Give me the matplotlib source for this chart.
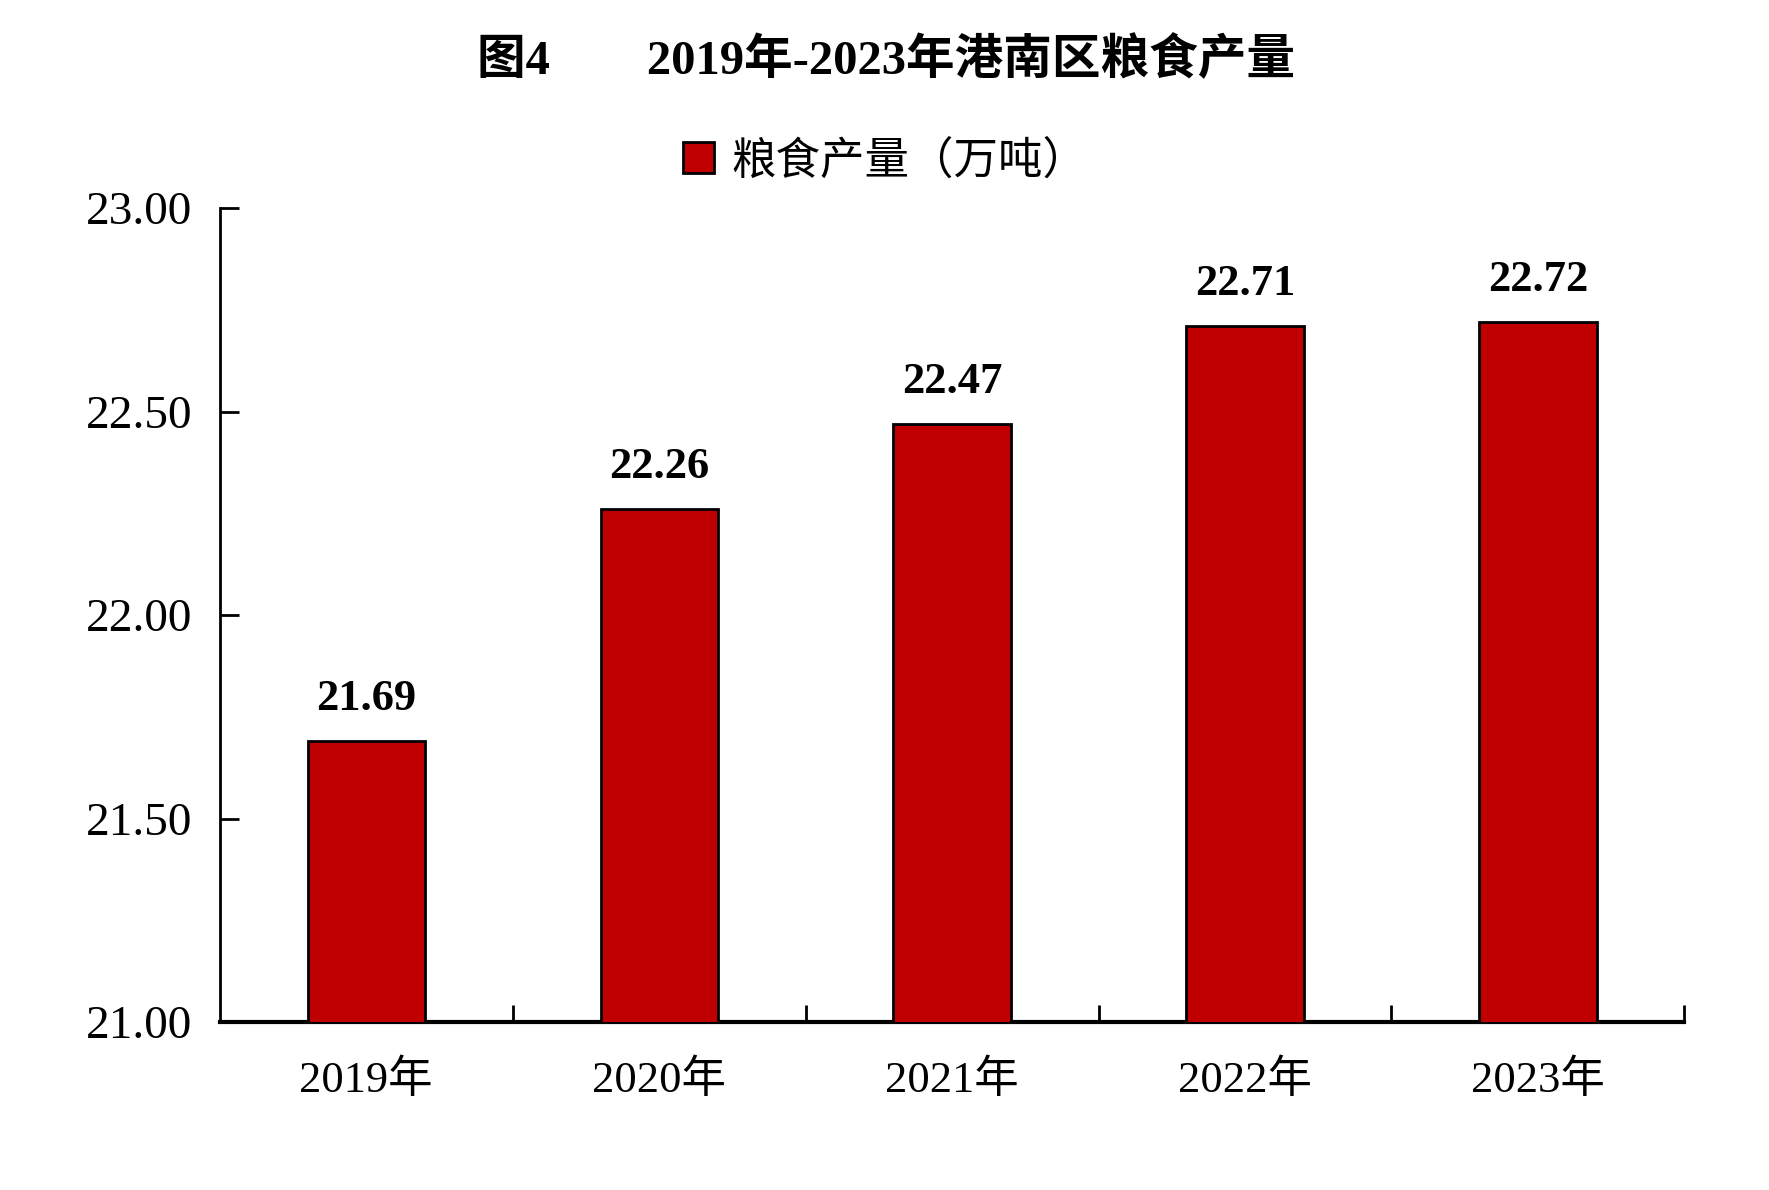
import matplotlib
matplotlib.use("Agg")
import matplotlib.pyplot as plt
from matplotlib.ticker import FixedLocator

plt.rcParams['font.family'] = ['Liberation Serif', 'Noto Sans CJK SC', 'DejaVu Sans']

# data
years = ["2019年", "2020年", "2021年", "2022年", "2023年"]
output = [21.69, 22.26, 22.47, 22.71, 22.72]
series_name = "粮食产量（万吨）"
title = "图4        2019年-2023年港南区粮食产量"
y_ticks = [21.0, 21.5, 22.0, 22.5, 23.0]

bar_color = "#C00000"

fig = plt.figure(figsize=(17.69, 11.9), dpi=100)
ax = fig.add_axes([0.1242, 0.141, 0.828, 0.684])

x = list(range(len(years)))
bars = ax.bar(x, output, width=0.4, color=bar_color, edgecolor="black",
              linewidth=2, label=series_name, zorder=3)

for xi, v in zip(x, output):
    ax.annotate(f"{v:.2f}", (xi, v), xytext=(0, 16), textcoords="offset points",
                ha="center", va="bottom", fontsize=32, fontweight="bold")

ax.set_xlim(-0.5, len(years) - 0.5)
ax.set_ylim(y_ticks[0], y_ticks[-1])
ax.set_yticks(y_ticks)
ax.set_yticklabels([f"{t:.2f}" for t in y_ticks])
ax.set_xticks(x)
ax.set_xticklabels(years)
ax.xaxis.set_minor_locator(FixedLocator([i + 0.5 for i in x]))

ax.tick_params(axis="y", direction="in", length=14, width=2, pad=20,
               labelsize=34)
ax.tick_params(axis="x", which="major", length=0, pad=27, labelsize=32)
ax.tick_params(axis="x", which="minor", direction="in", length=12, width=2)

for side in ("top", "right"):
    ax.spines[side].set_visible(False)
ax.spines["left"].set_linewidth(2)
ax.spines["bottom"].set_linewidth(3)

fig.text(0.5006, 0.949, title, ha="center", va="center", fontsize=35,
         fontweight="bold")

fig.legend(handles=[bars], labels=[series_name], loc="center",
           bbox_to_anchor=(0.5005, 0.8645), frameon=False, fontsize=32,
           handlelength=0.7, handleheight=0.7, handletextpad=0.4)

fig.savefig("out.png", dpi=100, facecolor="white")
plt.close(fig)
